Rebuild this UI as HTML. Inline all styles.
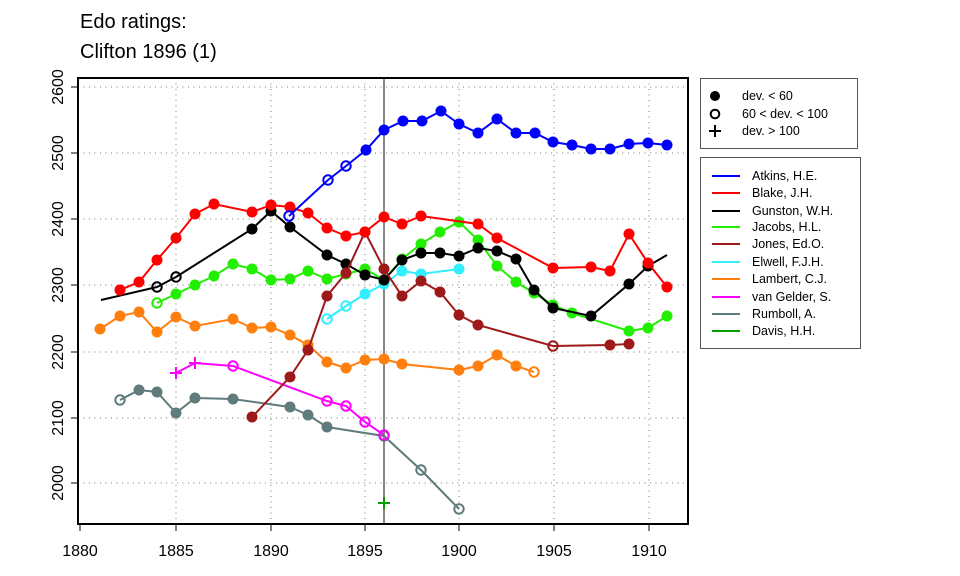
<!DOCTYPE html>
<html><head><meta charset="utf-8"><style>
body{margin:0;background:#fff;}
svg{display:block;font-family:"Liberation Sans",Arial,sans-serif;}
</style></head><body>
<svg id="s" width="960" height="576" viewBox="0 0 960 576" xmlns="http://www.w3.org/2000/svg">
<text x="80" y="28" font-size="20">Edo ratings:</text>
<text x="80" y="58" font-size="20">Clifton 1896 (1)</text>
<g stroke="#777" stroke-width="1" stroke-dasharray="1,4.5">
<line x1="176" y1="78" x2="176" y2="524"/><line x1="271" y1="78" x2="271" y2="524"/>
<line x1="365" y1="78" x2="365" y2="524"/><line x1="459" y1="78" x2="459" y2="524"/>
<line x1="554" y1="78" x2="554" y2="524"/><line x1="649" y1="78" x2="649" y2="524"/>
<line x1="78" y1="87" x2="688" y2="87"/><line x1="78" y1="153" x2="688" y2="153"/>
<line x1="78" y1="219" x2="688" y2="219"/><line x1="78" y1="285" x2="688" y2="285"/>
<line x1="78" y1="352" x2="688" y2="352"/><line x1="78" y1="418" x2="688" y2="418"/>
<line x1="78" y1="483" x2="688" y2="483"/>
</g>
<line x1="384" y1="78" x2="384" y2="524" stroke="#888" stroke-width="2"/>
<g id="d"></g>
<rect x="78" y="78" width="610" height="446" fill="none" stroke="#000" stroke-width="2"/>
<g stroke="#000" stroke-width="1">
<line x1="80" y1="524" x2="80" y2="531"/><line x1="176" y1="524" x2="176" y2="531"/><line x1="271" y1="524" x2="271" y2="531"/><line x1="365" y1="524" x2="365" y2="531"/><line x1="459" y1="524" x2="459" y2="531"/><line x1="554" y1="524" x2="554" y2="531"/><line x1="649" y1="524" x2="649" y2="531"/>
<line x1="71" y1="87" x2="78" y2="87"/><line x1="71" y1="153" x2="78" y2="153"/><line x1="71" y1="219" x2="78" y2="219"/><line x1="71" y1="285" x2="78" y2="285"/><line x1="71" y1="352" x2="78" y2="352"/><line x1="71" y1="418" x2="78" y2="418"/><line x1="71" y1="483" x2="78" y2="483"/>
</g>
<g font-size="16" text-anchor="middle">
<text x="80" y="556">1880</text><text x="176" y="556">1885</text><text x="271" y="556">1890</text><text x="365" y="556">1895</text><text x="459" y="556">1900</text><text x="554" y="556">1905</text><text x="649" y="556">1910</text>
<text transform="translate(63,87) rotate(-90)">2600</text>
<text transform="translate(63,153) rotate(-90)">2500</text>
<text transform="translate(63,219) rotate(-90)">2400</text>
<text transform="translate(63,285) rotate(-90)">2300</text>
<text transform="translate(63,352) rotate(-90)">2200</text>
<text transform="translate(63,418) rotate(-90)">2100</text>
<text transform="translate(63,483) rotate(-90)">2000</text>
</g>
<rect x="700.5" y="78.5" width="157" height="70" fill="none" stroke="#555"/>
<circle cx="715" cy="96" r="5" fill="#000"/>
<circle cx="715" cy="114" r="4.3" fill="none" stroke="#000" stroke-width="2"/>
<path d="M709 131h12M715 125v12" stroke="#000" stroke-width="2"/>
<g font-size="12.5"><text x="742" y="100">dev. &lt; 60</text><text x="742" y="118">60 &lt; dev. &lt; 100</text><text x="742" y="135">dev. &gt; 100</text></g>
<rect x="700.5" y="157.5" width="160" height="191" fill="none" stroke="#555"/>
<g stroke-width="2">
<line x1="712" y1="176" x2="740" y2="176" stroke="#0000ff"/>
<line x1="712" y1="193" x2="740" y2="193" stroke="#ff0000"/>
<line x1="712" y1="211" x2="740" y2="211" stroke="#000"/>
<line x1="712" y1="227" x2="740" y2="227" stroke="#22ee00"/>
<line x1="712" y1="244" x2="740" y2="244" stroke="#9e1a1a"/>
<line x1="712" y1="262" x2="740" y2="262" stroke="#33eeff"/>
<line x1="712" y1="279" x2="740" y2="279" stroke="#ff7f0e"/>
<line x1="712" y1="297" x2="740" y2="297" stroke="#ff00ff"/>
<line x1="712" y1="314" x2="740" y2="314" stroke="#607b7b"/>
<line x1="712" y1="331" x2="740" y2="331" stroke="#00a000"/>
</g>
<g font-size="12.5">
<text x="752" y="180">Atkins, H.E.</text><text x="752" y="197">Blake, J.H.</text><text x="752" y="215">Gunston, W.H.</text><text x="752" y="231">Jacobs, H.L.</text><text x="752" y="248">Jones, Ed.O.</text><text x="752" y="266">Elwell, F.J.H.</text><text x="752" y="283">Lambert, C.J.</text><text x="752" y="301">van Gelder, S.</text><text x="752" y="318">Rumboll, A.</text><text x="752" y="335">Davis, H.H.</text>
</g>
</svg>
<script>
var S=[
["#ff7f0e",[[100,329,'f'],[120,316,'f'],[139,312,'f'],[157,332,'f'],[176,317,'f'],[195,326,'f'],[233,319,'f'],[252,328,'f'],[271,327,'f'],[290,335,'f'],[308,345,'f'],[327,362,'f'],[346,368,'f'],[365,360,'f'],[384,359,'f'],[402,364,'f'],[459,370,'f'],[478,366,'f'],[497,355,'f'],[516,366,'f'],[534,372,'o']]],
["#607b7b",[[120,400,'o'],[139,390,'f'],[157,392,'f'],[176,413,'f'],[195,398,'f'],[233,399,'f'],[290,407,'f'],[308,415,'f'],[327,427,'f'],[384,436,'o'],[421,470,'o'],[459,509,'o']]],
["#ff00ff",[[176,373,'p'],[195,363,'p'],[233,366,'o'],[327,401,'o'],[346,406,'o'],[365,422,'o'],[384,435,'o']]],
["#33eeff",[[327,319,'o'],[346,306,'o'],[365,294,'f'],[384,284,'f'],[402,271,'f'],[421,274,'f'],[459,269,'f']]],
["#22ee00",[[157,303,'o'],[176,294,'f'],[195,285,'f'],[214,276,'f'],[233,264,'f'],[252,269,'f'],[271,280,'f'],[290,279,'f'],[308,271,'f'],[327,279,'f'],[346,274,'f'],[365,269,'f'],[384,280,'f'],[402,259,'f'],[421,244,'f'],[440,232,'f'],[459,222,'f'],[478,240,'f'],[497,266,'f'],[516,282,'f'],[534,293,'f'],[553,305,'f'],[572,313,'f'],[629,331,'f'],[648,328,'f'],[667,316,'f']]],
["#000000",[[101,300,''],[157,287,'o'],[176,277,'o'],[252,229,'f'],[271,211,'f'],[290,227,'f'],[327,255,'f'],[346,264,'f'],[365,275,'f'],[384,280,'f'],[402,260,'f'],[421,253,'f'],[440,253,'f'],[459,256,'f'],[478,248,'f'],[497,251,'f'],[516,259,'f'],[534,290,'f'],[553,308,'f'],[591,316,'f'],[629,284,'f'],[648,266,'f'],[667,255,'']]],
["#9e1a1a",[[252,417,'f'],[290,377,'f'],[308,350,'f'],[327,296,'f'],[346,273,'f'],[365,232,'f'],[384,269,'f'],[402,296,'f'],[421,281,'f'],[440,292,'f'],[459,315,'f'],[478,325,'f'],[553,346,'o'],[610,345,'f'],[629,344,'f']]],
["#ff0000",[[120,290,'f'],[139,282,'f'],[157,260,'f'],[176,238,'f'],[195,214,'f'],[214,204,'f'],[252,212,'f'],[271,205,'f'],[290,207,'f'],[308,213,'f'],[327,228,'f'],[346,236,'f'],[365,232,'f'],[384,217,'f'],[402,224,'f'],[421,216,'f'],[478,224,'f'],[497,238,'f'],[553,268,'f'],[591,267,'f'],[610,271,'f'],[629,234,'f'],[648,263,'f'],[667,287,'f']]],
["#0000ff",[[289,216,'o'],[328,180,'o'],[346,166,'o'],[366,150,'f'],[384,130,'f'],[403,121,'f'],[422,121,'f'],[441,111,'f'],[459,124,'f'],[478,133,'f'],[497,119,'f'],[516,133,'f'],[535,133,'f'],[553,142,'f'],[572,145,'f'],[591,149,'f'],[610,149,'f'],[629,144,'f'],[648,143,'f'],[667,145,'f']]],
["#00a000",[[384,503,'p']]]
];
var g=document.getElementById('d'),h='';
S.forEach(function(s){var c=s[0],p=s[1];
if(p.length>1)h+='<polyline fill="none" stroke="'+c+'" stroke-width="2" points="'+p.map(function(q){return q[0]+','+q[1]}).join(' ')+'"/>';
p.forEach(function(q){var x=q[0],y=q[1];
if(q[2]=='f')h+='<circle cx="'+x+'" cy="'+y+'" r="5.5" fill="'+c+'"/>';
else if(q[2]=='o')h+='<circle cx="'+x+'" cy="'+y+'" r="4.7" fill="none" stroke="'+c+'" stroke-width="2"/>';
else if(q[2]=='p')h+='<path d="M'+(x-6)+' '+y+'h12M'+x+' '+(y-6)+'v12" stroke="'+c+'" stroke-width="2"/>';
});});
g.innerHTML=h;
</script>
</body></html>
